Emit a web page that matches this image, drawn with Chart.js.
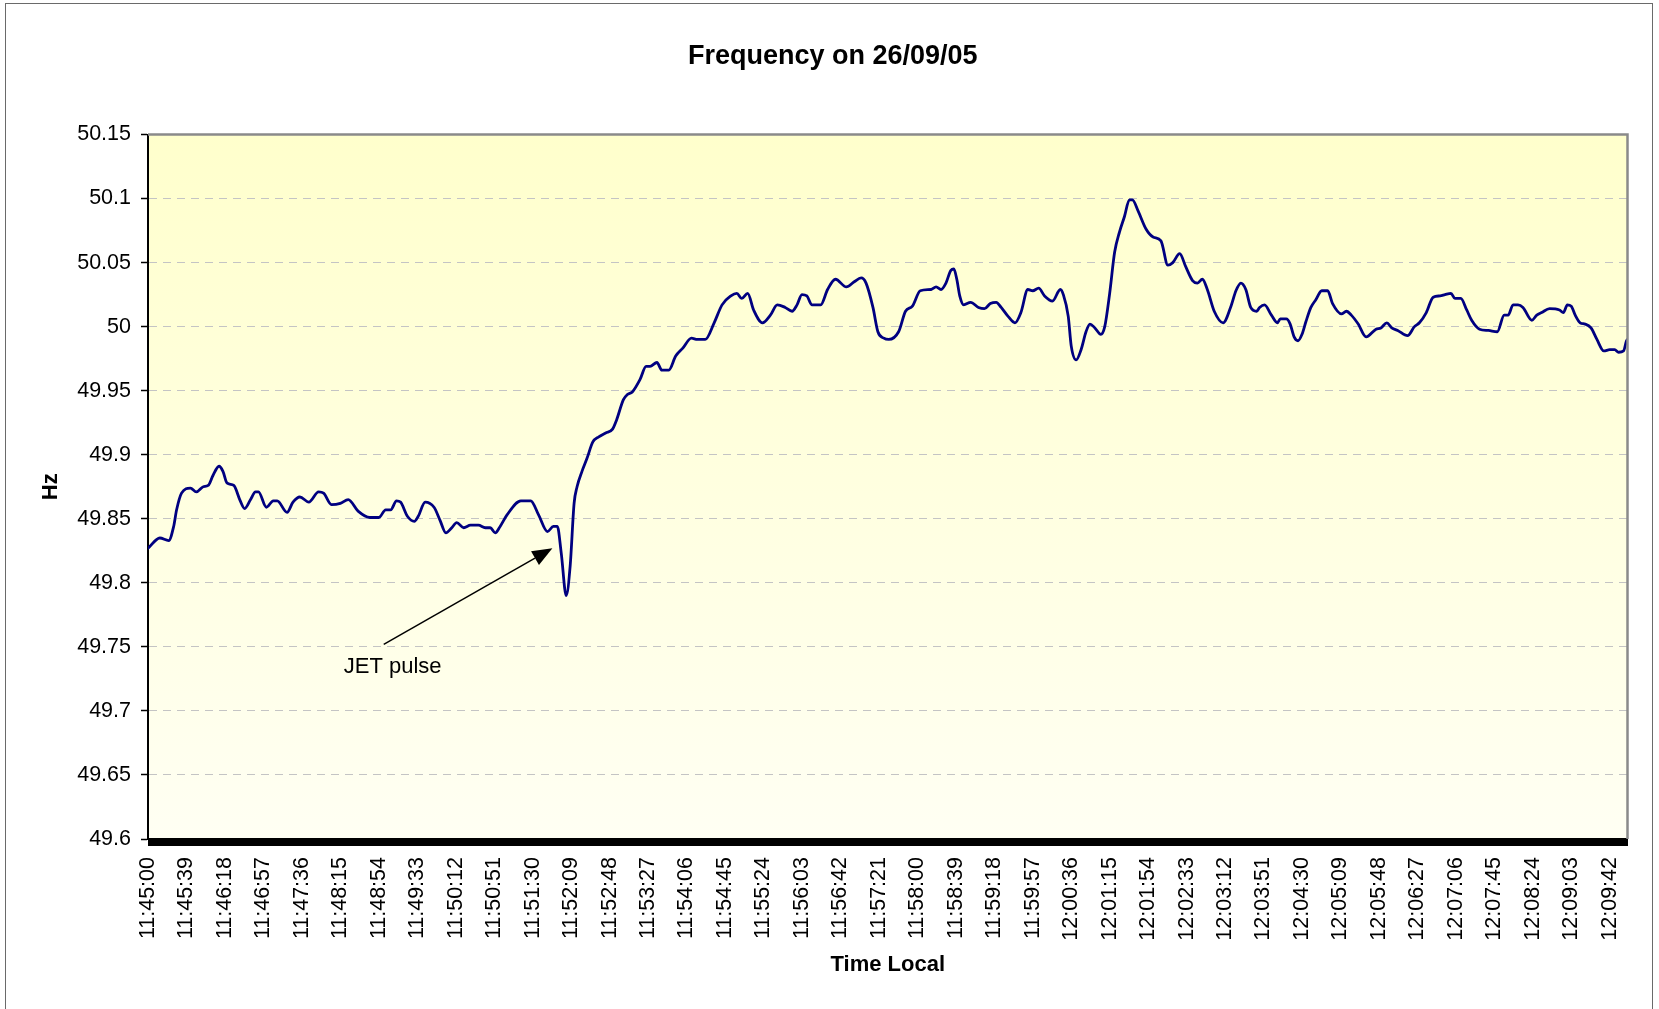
<!DOCTYPE html>
<html>
<head>
<meta charset="utf-8">
<script src="https://cdn.jsdelivr.net/npm/chart.js@4/dist/chart.umd.min.js"></script>
<style>
html,body{margin:0;padding:0;background:#fff;overflow:hidden;width:1659px;height:1009px}
#wrap{position:absolute;left:0;top:0;width:1659px;height:1009px}
#frame{position:absolute;left:5px;top:3px;width:1646px;height:1100px;border:1.5px solid #6a6a6a;pointer-events:none}
</style>
</head>
<body>
<div id="wrap"><canvas id="c" width="1659" height="1009"></canvas></div>
<div id="frame"></div>
<script>
// ---- data (seconds after 11:45:00, frequency in Hz) ----
const secs = [
  0,12,21,26,29,34,43,49,56,61,
  66,72,76,80,87,93,98,104,109,112,
  120,127,131,141,147,154,163,173,178,186,
  195,203,213,225,234,241,246,252,256,263,
  270,274,281,290,296,302,308,313,320,327,
  335,342,347,352,357,364,378,388,396,405,
  411,415,419,424,428,432,435,440,445,451,
  457,464,471,475,482,486,491,499,505,509,
  516,521,528,535,542,551,557,565,574,582,
  591,597,602,608,614,623,631,638,646,653,
  658,663,668,673,682,689,697,708,716,723,
  728,735,740,746,751,761,768,775,783,794,
  799,804,809,814,817,820,823,827,834,842,
  848,854,860,865,872,879,885,892,897,903,
  909,917,925,928,933,936,941,946,951,955,
  960,966,970,975,980,985,990,995,998,1004,
  1012,1019,1027,1034,1039,1046,1052,1059,1064,1069,
  1074,1081,1090,1098,1103,1108,1113,1118,1124,1127,
  1132,1139,1145,1148,1154,1158,1162,1166,1170,1174,
  1179,1184,1190,1196,1201,1210,1215,1220,1227,1235,
  1245,1250,1256,1261,1267,1277,1284,1289,1296,1303,
  1310,1315,1321,1325,1331,1337,1342,1350,1359,1368,
  1375,1379,1384,1389,1394,1403,1408,1413,1421,1431,
  1435,1439,1443,1447,1452,1457,1463,1469,1476,1482,
  1487,1491,1496,1499,1500
];
const hz = [
  49.827,49.835,49.833,49.844,49.857,49.870,49.874,49.871,49.875,49.876,
  49.884,49.891,49.887,49.878,49.876,49.865,49.858,49.865,49.871,49.871,
  49.859,49.864,49.864,49.855,49.863,49.867,49.863,49.871,49.870,49.861,
  49.862,49.865,49.856,49.851,49.851,49.857,49.857,49.864,49.863,49.852,
  49.848,49.852,49.863,49.859,49.849,49.839,49.843,49.847,49.843,49.845,
  49.845,49.843,49.843,49.839,49.844,49.853,49.864,49.864,49.853,49.840,
  49.844,49.844,49.823,49.790,49.813,49.862,49.875,49.887,49.897,49.910,
  49.914,49.917,49.920,49.927,49.943,49.947,49.949,49.959,49.969,49.969,
  49.972,49.966,49.966,49.977,49.983,49.991,49.990,49.990,50.003,50.017,
  50.024,50.026,50.022,50.026,50.013,50.003,50.009,50.017,50.015,50.012,
  50.017,50.025,50.024,50.017,50.017,50.029,50.037,50.031,50.035,50.038,
  50.034,50.015,49.996,49.991,49.990,49.996,50.012,50.016,50.028,50.029,
  50.031,50.029,50.034,50.044,50.045,50.037,50.024,50.017,50.019,50.015,
  50.014,50.018,50.019,50.015,50.008,50.003,50.011,50.029,50.028,50.030,
  50.024,50.020,50.029,50.025,50.008,49.985,49.974,49.982,49.996,50.002,
  49.999,49.994,50.000,50.026,50.058,50.074,50.086,50.099,50.099,50.090,
  50.076,50.070,50.067,50.048,50.050,50.057,50.047,50.036,50.034,50.037,
  50.029,50.012,50.003,50.016,50.028,50.034,50.029,50.015,50.012,50.015,
  50.017,50.009,50.003,50.006,50.006,50.002,49.992,49.989,49.994,50.004,
  50.015,50.021,50.028,50.028,50.018,50.010,50.012,50.009,50.002,49.992,
  49.998,49.999,50.003,49.999,49.997,49.993,50.000,50.003,50.011,50.023,
  50.024,50.025,50.026,50.022,50.022,50.013,50.005,49.998,49.997,49.996,
  50.009,50.009,50.017,50.017,50.015,50.005,50.009,50.011,50.014,50.013,
  50.011,50.017,50.016,50.009,50.003,50.002,49.999,49.990,49.981,49.982,
  49.982,49.980,49.981,49.989,49.990
];
const totalSeconds = 1500;      // 11:45:00 .. 12:10:00, one category per second
const labelEvery = 39;
const xTickLabels = [
  '11:45:00','11:45:39','11:46:18','11:46:57','11:47:36','11:48:15','11:48:54','11:49:33',
  '11:50:12','11:50:51','11:51:30','11:52:09','11:52:48','11:53:27','11:54:06','11:54:45',
  '11:55:24','11:56:03','11:56:42','11:57:21','11:58:00','11:58:39','11:59:18','11:59:57',
  '12:00:36','12:01:15','12:01:54','12:02:33','12:03:12','12:03:51','12:04:30','12:05:09',
  '12:05:48','12:06:27','12:07:06','12:07:45','12:08:24','12:09:03','12:09:42'
];
const yTicks = [49.6,49.65,49.7,49.75,49.8,49.85,49.9,49.95,50,50.05,50.1,50.15];
const noteText = 'JET pulse';
const noteFrom = [239, 49.752];
const noteTo = [410, 49.827];
const noteAt = [248, 49.734];

// ---- chart ----
const FONT = "'Liberation Sans', Arial, Helvetica, sans-serif";
Chart.defaults.font.family = FONT;
Chart.defaults.color = '#000';

const plotBg = {
  id: 'plotBg',
  beforeDraw(chart) {
    const {ctx, chartArea: a} = chart;
    const g = ctx.createLinearGradient(0, a.top, 0, a.bottom);
    g.addColorStop(0, '#FFFFCC');
    g.addColorStop(1, '#FFFFF3');
    ctx.save();
    ctx.fillStyle = g;
    ctx.fillRect(a.left, a.top, a.right - a.left, a.bottom - a.top);
    ctx.restore();
  }
};
const plotFrame = {
  id: 'plotFrame',
  afterDatasetsDraw(chart) {
    const {ctx, chartArea: a} = chart;
    ctx.save();
    ctx.strokeStyle = '#8a8a8a';
    ctx.lineWidth = 2.5;
    ctx.beginPath();
    ctx.moveTo(a.left, a.top);
    ctx.lineTo(a.right, a.top);
    ctx.lineTo(a.right, a.bottom);
    ctx.stroke();
    ctx.restore();
  }
};
const jetNote = {
  id: 'jetNote',
  afterDatasetsDraw(chart) {
    const xs = chart.scales.x, ys = chart.scales.y, ctx = chart.ctx;
    const x0 = xs.getPixelForValue(noteFrom[0]), y0 = ys.getPixelForValue(noteFrom[1]);
    const x1 = xs.getPixelForValue(noteTo[0]), y1 = ys.getPixelForValue(noteTo[1]);
    const ang = Math.atan2(y1 - y0, x1 - x0);
    const L = 20, W = 8;
    const bx = x1 - L * Math.cos(ang), by = y1 - L * Math.sin(ang);
    ctx.save();
    ctx.strokeStyle = '#000';
    ctx.lineWidth = 1.5;
    ctx.beginPath();
    ctx.moveTo(x0, y0);
    ctx.lineTo(bx, by);
    ctx.stroke();
    ctx.fillStyle = '#000';
    ctx.beginPath();
    ctx.moveTo(x1, y1);
    ctx.lineTo(bx + W * Math.sin(ang), by - W * Math.cos(ang));
    ctx.lineTo(bx - W * Math.sin(ang), by + W * Math.cos(ang));
    ctx.closePath();
    ctx.fill();
    ctx.font = '22px ' + FONT;
    ctx.textAlign = 'center';
    ctx.textBaseline = 'middle';
    ctx.fillText(noteText, xs.getPixelForValue(noteAt[0]), ys.getPixelForValue(noteAt[1]));
    ctx.restore();
  }
};

new Chart(document.getElementById('c'), {
  type: 'line',
  data: {
    datasets: [{
      label: 'Hz',
      data: secs.map((s, i) => ({x: s, y: hz[i]})),
      borderColor: '#000080',
      borderWidth: 2.8,
      pointRadius: 0,
      fill: false,
      cubicInterpolationMode: 'monotone',
      borderJoinStyle: 'round',
      borderCapStyle: 'round'
    }]
  },
  options: {
    responsive: false,
    animation: false,
    events: [],
    layout: {padding: {left: 38, right: 31.5, top: 0, bottom: 31}},
    plugins: {
      legend: {display: false},
      tooltip: {enabled: false},
      title: {
        display: true,
        text: 'Frequency on 26/09/05',
        color: '#000',
        font: {size: 27, weight: 'bold'},
        padding: {top: 40.7, bottom: 61.4}
      }
    },
    scales: {
      x: {
        type: 'linear',
        min: 0,
        max: totalSeconds,
        afterBuildTicks(s) {
          const t = [];
          for (let i = 0; i <= totalSeconds; i++) t.push({value: i});
          s.ticks = t;
        },
        afterFit(s) { s.height = 139; s.paddingRight = 0; s.paddingLeft = 0; },
        ticks: {
          autoSkip: false,
          minRotation: 90,
          maxRotation: 90,
          padding: 11,
          color: '#000',
          font: {size: 21.5},
          callback: (v) => (v % labelEvery === 0 ? (xTickLabels[v / labelEvery] || '') : '')
        },
        grid: {drawOnChartArea: false, drawTicks: true, tickLength: 7, tickColor: '#000', tickWidth: 1},
        border: {display: true, color: '#000', width: 2},
        title: {display: true, text: 'Time Local', color: '#000', font: {size: 22, weight: 'bold'}, padding: 0}
      },
      y: {
        min: 49.6,
        max: 50.15,
        afterBuildTicks(s) { s.ticks = yTicks.map(v => ({value: v})); },
        afterFit(s) { s.width = 110; },
        ticks: {
          padding: 10,
          color: '#000',
          font: {size: 21.5},
          callback: (v) => String(+Number(v).toFixed(2))
        },
        grid: {color: '#c4c4c4', lineWidth: 1, tickLength: 7, tickColor: '#000', tickWidth: 1.5, tickBorderDash: []},
        border: {display: true, color: '#000', width: 2, dash: [8, 6]},
        title: {display: true, text: 'Hz', color: '#000', font: {size: 22, weight: 'bold'}, padding: 0}
      }
    }
  },
  plugins: [plotBg, plotFrame, jetNote]
});
</script>
</body>
</html>
